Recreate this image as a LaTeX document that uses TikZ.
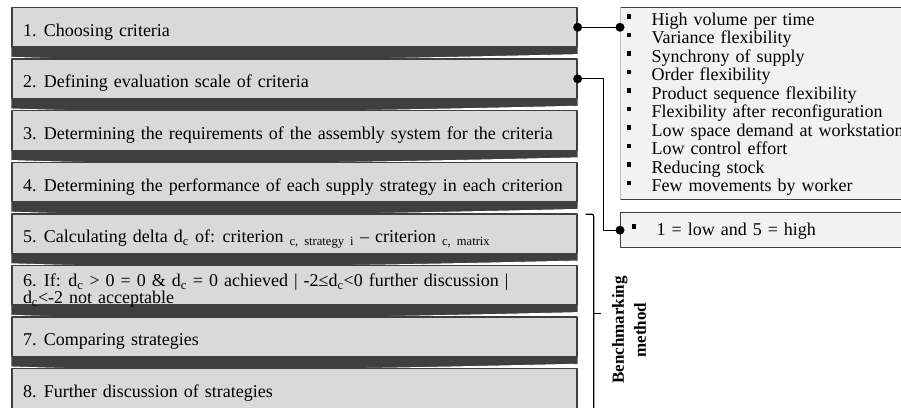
\documentclass[tikz,border=0pt]{standalone}
\usepackage{fontspec}
\setmainfont{Liberation Serif}
\usetikzlibrary{calc}
\definecolor{boxgray}{HTML}{D9D9D9}
\definecolor{bandgray}{HTML}{3F3F3F}
\definecolor{listgray}{HTML}{F2F2F2}
\newcommand\sqbul{\makebox[25pt][l]{\rule[6.5pt]{4.3pt}{4.3pt}}}
\newcommand\widespace{\spaceskip=6pt plus 1pt minus 1pt\relax}
\tikzset{
	stepbox/.style={draw=bandgray, line width=1.3pt, fill=boxgray, minimum width=565pt,
		minimum height=39.5pt, inner sep=0pt, text height=22pt, text depth=4pt},
	row6/.style={text height=16pt, text depth=13.5pt},
	listbox/.style={draw=bandgray, line width=1.3pt, fill=listgray, anchor=north west,
		minimum width=300pt, inner sep=0pt},
	item/.style={anchor=base west, inner sep=0pt},
	link/.style={line width=1.2pt}
}
\begin{document}
\begin{tikzpicture}[x=1pt, y=-1pt, line join=round,
		font=\fontsize{18}{18.5}\selectfont\widespace]
		\clip (0,0) rectangle (901,407);
		% steps of the method
		\foreach \t [count=\i] in {1. Choosing criteria,
			2. Defining evaluation scale of criteria,
			3. Determining the requirements of the assembly system for the criteria,
			4. Determining the performance of each supply strategy in each criterion,
			{5. Calculating delta d\textsubscript{c} of: criterion \textsubscript{c, strategy i} -- criterion \textsubscript{c, matrix}},
			{\parbox[t]{543pt}{\fontsize{18}{11}\selectfont\widespace 6. If: d\textsubscript{c} > 0 = 0 \& d\textsubscript{c} = 0 achieved | -2≤d\textsubscript{c}<0 further discussion |\\ d\textsubscript{c}<-2 not acceptable}},
			7. Comparing strategies,
			8. Further discussion of strategies}
		{
			\pgfmathsetmacro\y{27.25+51.6*(\i-1)}
			\pgfmathsetmacro\tn{\y+31.85}
			\fill[bandgray] (11.4,\y+17) -- (577.6,\y+17) -- (577.6,\tn-4.5)
				.. controls (300,\tn+2) and (150,\tn+3) .. (11.4,\tn-1.8) -- cycle;
			\draw[white, line width=0.9pt] (577.6,\tn-4.5)
				.. controls (300,\tn+2) and (150,\tn+3) .. (11.4,\tn-1.8);
			\node[stepbox, row\i/.try] (s\i) at (294.5,\y) {\makebox[543pt][l]{\t}};
		}
		% criteria and scale
		\node[listbox, minimum height=192pt] (crit) at (620,7) {};
		\draw[gray!55, line width=1pt] (crit.north west) -- (crit.south west);
		\node[listbox, minimum height=35pt] (scale) at (620,212) {};
		\foreach \t [count=\i] in {High volume per time, Variance flexibility,
			Synchrony of supply, Order flexibility, Product sequence flexibility,
			Flexibility after reconfiguration, Low space demand at workstation,
			Low control effort, Reducing stock, Few movements by worker}
			\node[item] (crit\i) at (626.5,6.7+18.5*\i) {\sqbul\t};
		\node[item] (scale1) at (631.5,235) {\sqbul 1 = low and 5 = high};
		% links
		\draw[link] (s1.east) -- (s1.east -| crit.west);
		\draw[link] (s2.east) -- ++(26,0) |- (scale.west);
		\fill (s1.east) circle (4.5pt) (s1.east -| crit.west) circle (4.5pt)
			(s2.east) circle (4.5pt) (scale.west) circle (4.5pt);
		% bracket
		\path
			($(s5.north east)+(8,1)$) coordinate (b1)
			($(s8.south east)+(8,4)$) coordinate (b2)
			($(b1)!0.5!(b2)+(8,0)$) coordinate (bm);
		\draw[link, rounded corners=2pt] (b1) -- ++(8,0) |- (b2);
		\draw[link] (bm) -- ++(7,0);
		\node[rotate=90, align=center, font=\bfseries\fontsize{17}{22}\selectfont] (bench)
			at (629,330) {Benchmarking\\method};
\end{tikzpicture}
\end{document}
